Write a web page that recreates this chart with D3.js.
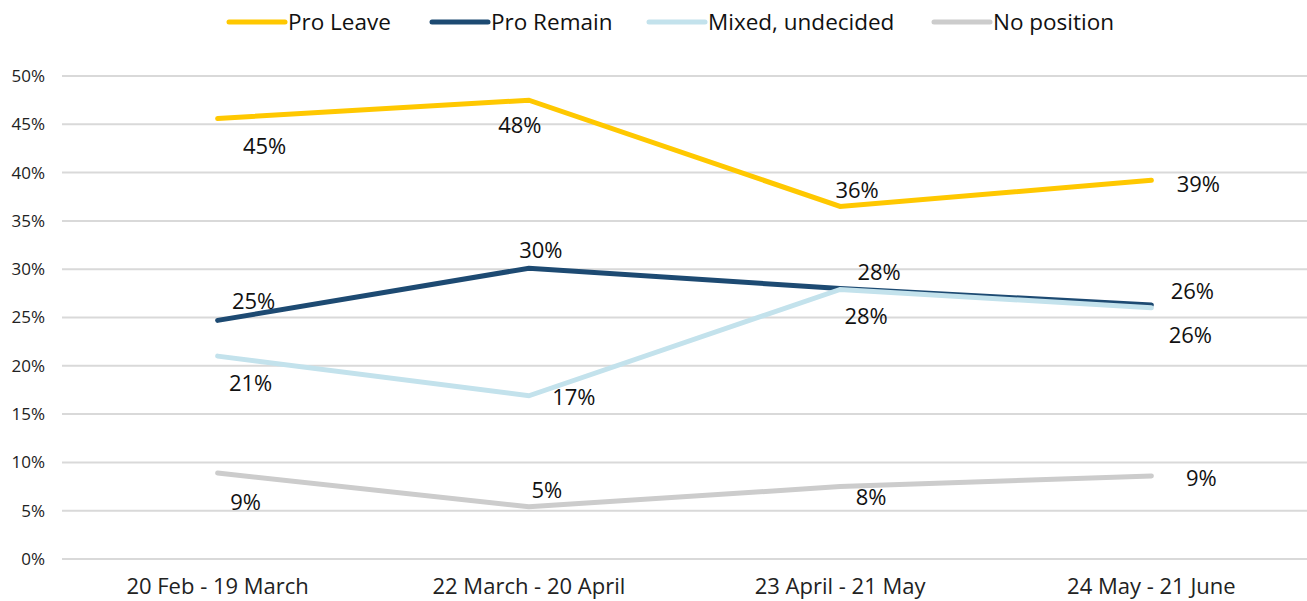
<!DOCTYPE html>
<html>
  <head>
    <meta charset="utf-8">
    <script type="text/javascript" src="https://cdnjs.cloudflare.com/ajax/libs/d3/7.8.5/d3.min.js"></script>
    <style type="text/css">

html, body {
  margin: 0;
  background: #fff;
}

svg {
  display: block;
  font-family: "Open Sans", sans-serif;
}

.grid line {
  stroke: #d9d9d9;
  stroke-width: 2;
}

    </style>
  </head>
  <body>
    <div id="chart"></div>
    <script type="text/javascript">

// periods on the x axis
var periods = ["20 Feb - 19 March", "22 March - 20 April", "23 April - 21 May", "24 May - 21 June"];

// share of coverage, percent
var proLeave  = [45.6, 47.5, 36.5, 39.2];
var proRemain = [24.7, 30.1, 28.0, 26.3];
var mixed     = [21.0, 16.9, 27.9, 26.0];
var noPosition = [8.9, 5.4, 7.5, 8.6];

// labels printed next to the points
var leaveLabels  = ["45%", "48%", "36%", "39%"];
var remainLabels = ["25%", "30%", "28%", "26%"];
var mixedLabels  = ["21%", "17%", "28%", "26%"];
var noPosLabels  = ["9%", "5%", "8%", "9%"];

var yTicks = [0, 5, 10, 15, 20, 25, 30, 35, 40, 45, 50];

var series = [
  {name: "Pro Leave", values: proLeave, labels: leaveLabels, color: "#ffc800",
   nudge: [[47, 28], [-9, 25], [17, -16], [47, 4]]},
  {name: "Pro Remain", values: proRemain, labels: remainLabels, color: "#1d4a72",
   nudge: [[36, -19], [12, -18], [39, -16], [41, -14]]},
  {name: "Mixed, undecided", values: mixed, labels: mixedLabels, color: "#c3e2ec",
   nudge: [[33, 27], [45, 2], [26, 27], [39, 27]]},
  {name: "No position", values: noPosition, labels: noPosLabels, color: "#cccccc",
   nudge: [[28, 29], [18, -17], [31, 11], [50, 2]]}
];

var width = 1307,
    height = 601,
    margin = {top: 76, right: 0, bottom: 42, left: 62};

var svg = d3.select("#chart").append("svg")
    .attr("width", width)
    .attr("height", height);

var x = d3.scaleBand()
    .domain(periods)
    .range([margin.left, width - margin.right]);

var y = d3.scaleLinear()
    .domain([0, 50])
    .range([height - margin.bottom, margin.top]);

// horizontal grid
svg.append("g")
    .attr("class", "grid")
    .selectAll("line")
    .data(yTicks)
  .enter().append("line")
    .attr("x1", margin.left)
    .attr("x2", width - margin.right)
    .attr("y1", function(d) { return y(d); })
    .attr("y2", function(d) { return y(d); });

// y axis labels
var yAxis = d3.axisLeft(y)
    .tickValues(yTicks)
    .tickSize(0)
    .tickPadding(0)
    .tickFormat(function(d) { return d + "%"; });

svg.append("g")
    .attr("transform", "translate(45,0)")
    .call(yAxis)
    .call(function(g) { g.select(".domain").remove(); })
    .selectAll("text")
    .attr("font-size", 17)
    .attr("font-family", "'Open Sans', sans-serif")
    .attr("fill", "#222");

// x axis labels
var xAxis = d3.axisBottom(x)
    .tickSize(0)
    .tickPadding(0);

svg.append("g")
    .attr("transform", "translate(0,578)")
    .call(xAxis)
    .call(function(g) { g.select(".domain").remove(); })
    .selectAll("text")
    .attr("font-size", 22)
    .attr("font-family", "'Open Sans', sans-serif")
    .attr("fill", "#222");

var line = d3.line()
    .x(function(d, i) { return x(periods[i]) + x.bandwidth() / 2; })
    .y(function(d) { return y(d); });

var lines = svg.append("g");

series.forEach(function(s) {
  lines.append("path")
      .attr("d", line(s.values))
      .attr("fill", "none")
      .attr("stroke", s.color)
      .attr("stroke-width", 5)
      .attr("stroke-linecap", "round")
      .attr("stroke-linejoin", "miter");
});

// data labels
series.forEach(function(s) {
  svg.append("g").selectAll("text")
      .data(s.values)
    .enter().append("text")
      .attr("x", function(d, i) { return x(periods[i]) + x.bandwidth() / 2 + s.nudge[i][0]; })
      .attr("y", function(d, i) { return y(d) + s.nudge[i][1]; })
      .attr("dy", "0.35em")
      .attr("text-anchor", "middle")
      .attr("font-size", 22)
      .attr("fill", "#111")
      .text(function(d, i) { return s.labels[i]; });
});

// legend
var legendX = [229, 432, 649, 934];

var legend = svg.append("g").selectAll("g")
    .data(series)
  .enter().append("g")
    .attr("transform", function(d, i) { return "translate(" + legendX[i] + ",22)"; });

legend.append("line")
    .attr("x1", 0)
    .attr("x2", 56)
    .attr("stroke", function(d) { return d.color; })
    .attr("stroke-width", 5)
    .attr("stroke-linecap", "round");

legend.append("text")
    .attr("x", 59)
    .attr("dy", "0.35em")
    .attr("font-size", 22.5)
    .attr("fill", "#111")
    .text(function(d) { return d.name; });

    </script>
  </body>
</html>
